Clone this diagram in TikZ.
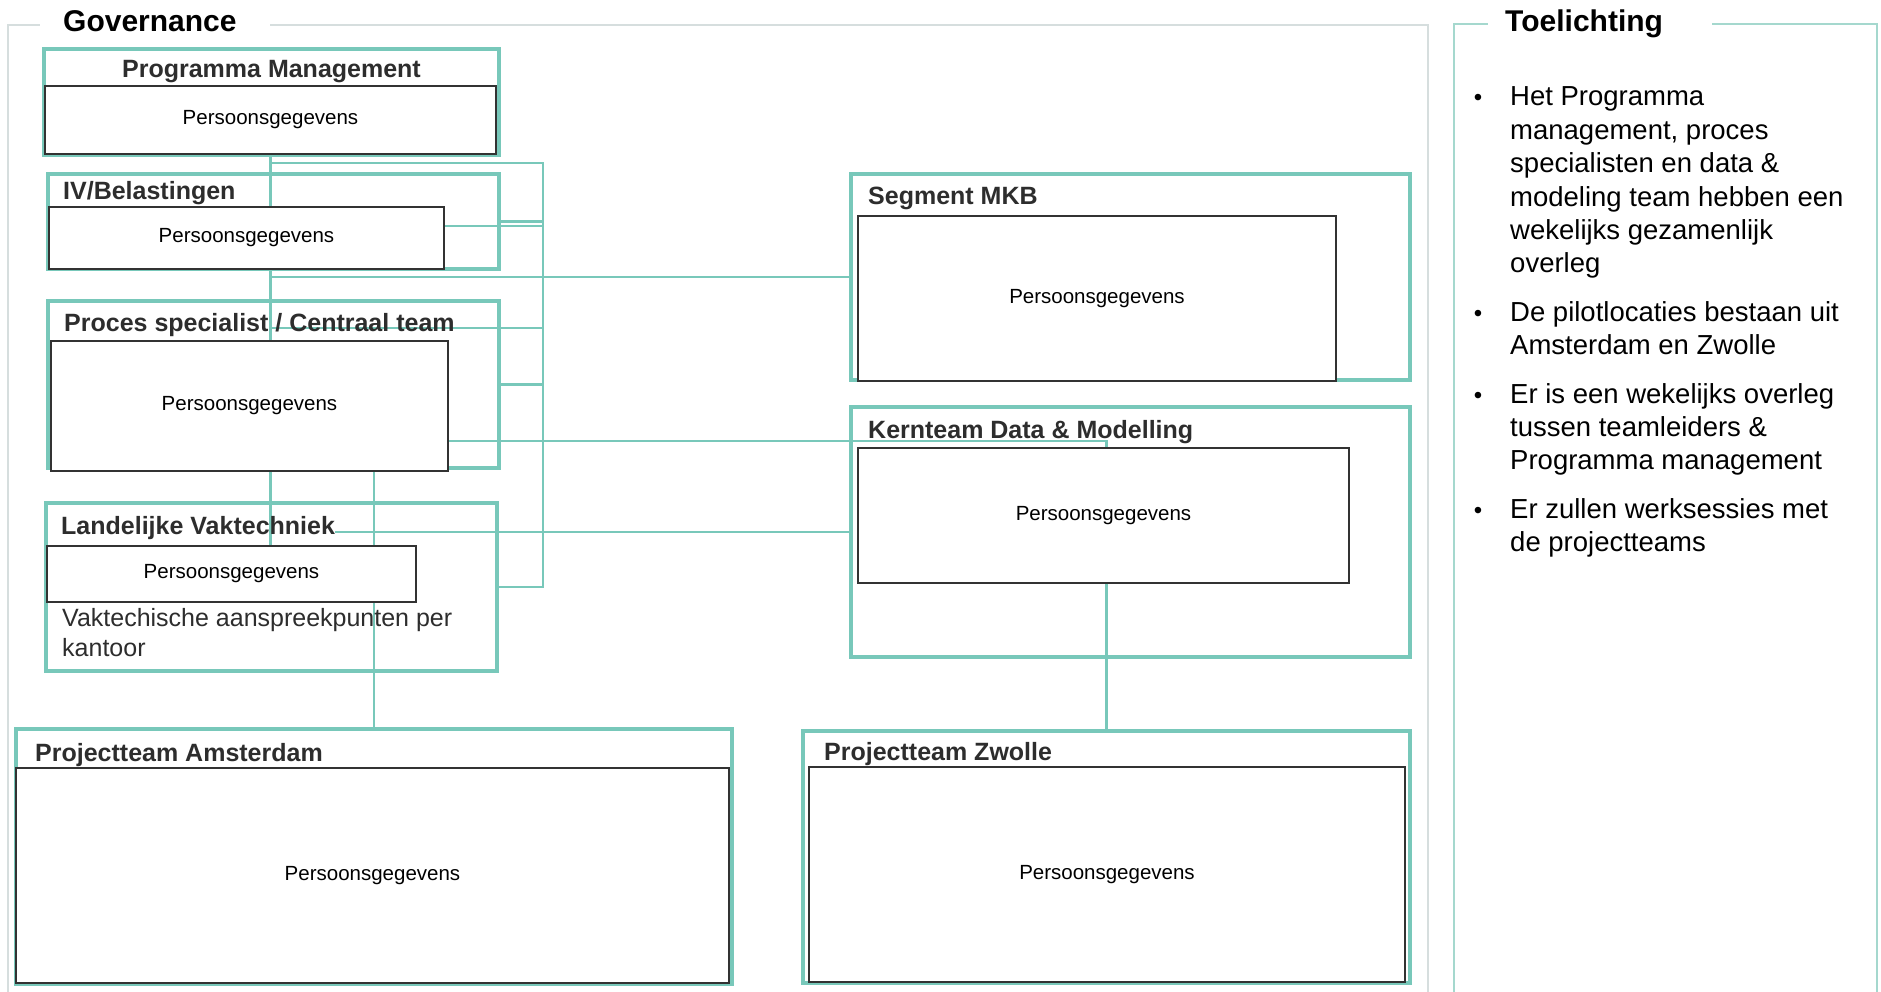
\documentclass[tikz,border=0pt]{standalone}
\usepackage{fontspec}
\setmainfont{Liberation Sans}
\definecolor{tealline}{RGB}{120,200,186}
\definecolor{govline}{RGB}{214,222,222}
\definecolor{noteline}{RGB}{165,216,206}
\definecolor{inkgray}{RGB}{45,45,45}
\definecolor{boxline}{RGB}{50,50,50}
\pgfdeclarelayer{background}
\pgfsetlayers{background,main}

\begin{document}
\begin{tikzpicture}[x=1pt,y=-1pt,
  panelframe/.style={line width=2.5pt},
  grp/.style={draw=tealline, line width=4.5pt, inner sep=0pt},
  inbox/.style={draw=boxline, line width=1.8pt, fill=white, inner sep=0pt,
    font=\fontsize{20.5}{24}\selectfont, text=black},
  grptitle/.style={anchor=base west, inner sep=0pt, text=inkgray,
    font=\fontsize{25}{30}\selectfont\bfseries},
  link/.style={draw=tealline, line width=2.5pt},
  paneltitle/.style={anchor=base west, inner sep=0pt, text=black,
    font=\fontsize{30}{36}\selectfont\bfseries},
  note/.style={anchor=base west, inner sep=0pt, text=black,
    font=\fontsize{27.5}{33.4}\selectfont},
  bulletmark/.style={anchor=base, inner sep=0pt, text=black,
    font=\fontsize{24}{28}\selectfont}
]
\useasboundingbox (0,0) rectangle (1881,992);

% ---------- page and panel frames ----------
\begin{pgfonlayer}{background}
  \fill[white] (0,0) rectangle (1881,992);
  \draw[panelframe, govline] (8,992) -- (8,25) -- (40,25);
  \draw[panelframe, govline] (270,25) -- (1428,25) -- (1428,992);
  \draw[panelframe, noteline] (1454,992) -- (1454,24) -- (1488,24);
  \draw[panelframe, noteline] (1712,24) -- (1877,24) -- (1877,992);
\end{pgfonlayer}
\node[paneltitle] (govTitle) at (63,32) {Governance};
\node[paneltitle] (noteTitle) at (1505,31.5) {Toelichting};

% ---------- group frames ----------
\node[grp, minimum width=455, minimum height=106] (pmOut) at (271.5,102) {};
\node[grp, minimum width=451, minimum height=95]  (ivOut) at (273.5,221.5) {};
\node[grp, minimum width=451, minimum height=167] (psOut) at (273.5,384.5) {};
\node[grp, minimum width=451, minimum height=168] (lvOut) at (271.5,587) {};
\node[grp, minimum width=716, minimum height=255] (amOut) at (374,856.5) {};
\node[grp, minimum width=607, minimum height=252] (zwOut) at (1106.5,857) {};
\node[grp, minimum width=559, minimum height=206] (sgOut) at (1130.5,277) {};
\node[grp, minimum width=559, minimum height=250] (kmOut) at (1130.5,532) {};

% ---------- inner boxes ----------
\node[inbox, minimum width=451, minimum height=68]  (pmIn) at (270.5,120) {Persoonsgegevens};
\node[inbox, minimum width=395, minimum height=62]  (ivIn) at (246.5,238) {Persoonsgegevens};
\node[inbox, minimum width=397, minimum height=130] (psIn) at (249.5,406) {Persoonsgegevens};
\node[inbox, minimum width=369, minimum height=56]  (lvIn) at (231.5,574) {Persoonsgegevens};
\node[inbox, minimum width=713, minimum height=215] (amIn) at (372.5,875.5) {Persoonsgegevens};
\node[inbox, minimum width=596, minimum height=215] (zwIn) at (1107,874.5) {Persoonsgegevens};
\node[inbox, minimum width=478, minimum height=165] (sgIn) at (1097,298.5) {Persoonsgegevens};
\node[inbox, minimum width=491, minimum height=135] (kmIn) at (1103.5,515.5) {Persoonsgegevens};

% ---------- group titles ----------
\node[grptitle, anchor=base] (pmTitle) at (271.5,78) {Programma Management};
\node[grptitle] (ivTitle) at (63,200) {IV/Belastingen};
\node[grptitle] (psTitle) at (64,331) {Proces specialist / Centraal team};
\node[grptitle] (lvTitle) at (61,534) {Landelijke Vaktechniek};
\node[grptitle] (amTitle) at (35,761) {Projectteam Amsterdam};
\node[grptitle] (zwTitle) at (824,760) {Projectteam Zwolle};
\node[grptitle] (sgTitle) at (868,205) {Segment MKB};
\node[grptitle] (kmTitle) at (868,438) {Kernteam Data \& Modelling};
\node[anchor=base west, inner sep=0pt, text=inkgray,
  font=\fontsize{25}{30}\selectfont] (lvNote) at (62,626)
  {\parbox[t]{420pt}{\raggedright Vaktechische aanspreekpunten per\\kantoor}};

% ---------- connectors ----------
\coordinate (busN) at (543,163);
\coordinate (busS) at (543,587);
\coordinate (psTap) at (272,328);
\begin{pgfonlayer}{background}
  \draw[link] (pmIn.south) -- (pmIn.south |- lvIn.north);
  \draw[link] (pmIn.south |- busN) -- (busN) -- (busS) -- (lvOut.east);
  \draw[link] (ivOut.east) -| (busN);
  \draw[link] ([yshift=12pt]ivIn.east) -| (busN);
  \draw[link] (psTap) -| (busN);
  \draw[link] (psOut.east) -| (busN);
  \draw[link] (pmIn.south |- sgOut.west) -- (sgOut.west);
  \draw[link] ([yshift=-35pt]psIn.east) -| (zwOut.north);
  \draw[link] (lvTitle.east |- kmOut.west) -- (kmOut.west);
  \draw[link] (amOut.north) -- (amOut.north |- psIn.south);
\end{pgfonlayer}

% ---------- notes ----------
\node[bulletmark] (b1) at (1478,106) {•};
\node[note] (n1) at (1510,106) {\parbox[t]{360pt}{\raggedright Het Programma\\management, proces\\specialisten en data \&\\modeling team hebben een\\wekelijks gezamenlijk\\overleg}};
\node[bulletmark] (b2) at (1478,321) {•};
\node[note] (n2) at (1510,321) {\parbox[t]{360pt}{\raggedright De pilotlocaties bestaan uit\\Amsterdam en Zwolle}};
\node[bulletmark] (b3) at (1478,403) {•};
\node[note] (n3) at (1510,403) {\parbox[t]{360pt}{\raggedright Er is een wekelijks overleg\\tussen teamleiders \&\\Programma management}};
\node[bulletmark] (b4) at (1478,518) {•};
\node[note] (n4) at (1510,518) {\parbox[t]{360pt}{\raggedright Er zullen werksessies met\\de projectteams}};
\end{tikzpicture}
\end{document}
